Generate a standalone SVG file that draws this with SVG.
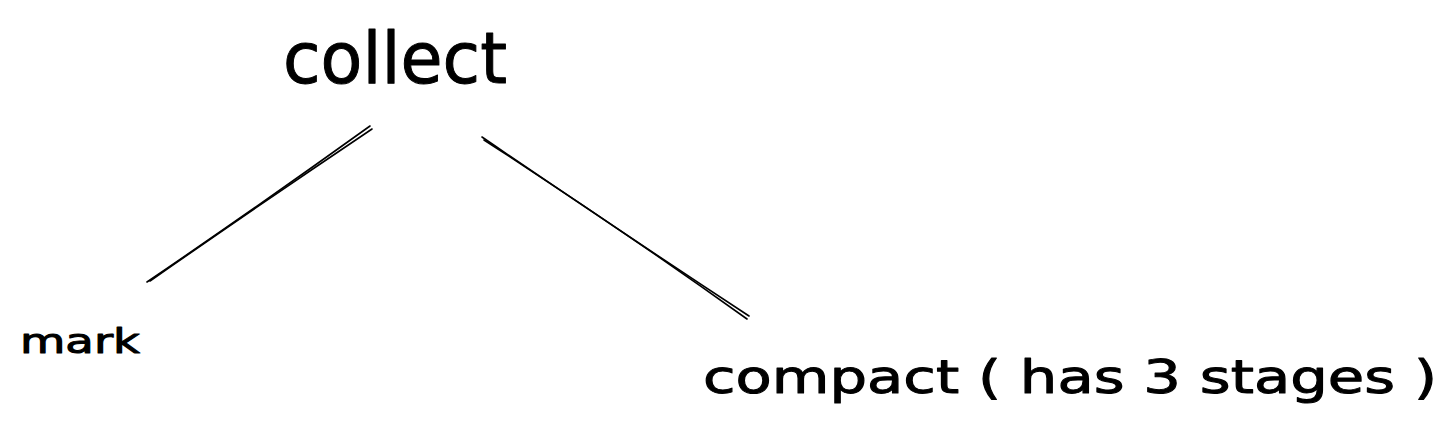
<svg xmlns="http://www.w3.org/2000/svg" width="1451" height="433" viewBox="0 0 1451 433">
<style>
.t{font-family:"DejaVu Sans","Liberation Sans",sans-serif;fill:#000;stroke:#000;stroke-width:1;stroke-linejoin:round;}
.e{fill:none;stroke:#000;stroke-width:1.6;stroke-linecap:round;}
</style>
<rect width="1451" height="433" fill="#fff"/>
<g id="connectors">
<path class="e" d="M147 282 Q260 205 370 126"/>
<path class="e" d="M150 281 Q262 203 372 129"/>
<path class="e" d="M482 137 Q615 228 749 316"/>
<path class="e" d="M484 140 Q617 226 747 319"/>
</g>
<g id="node-collect"><text class="t" x="283" y="83" font-size="72" stroke-width="1.4" textLength="224" lengthAdjust="spacingAndGlyphs">collect</text></g>
<g id="node-mark"><text class="t" x="20" y="353" font-size="33" textLength="120" lengthAdjust="spacingAndGlyphs">mark</text></g>
<g id="node-compact"><text class="t" x="703" y="393" font-size="46" stroke-width="1.2" textLength="734" lengthAdjust="spacingAndGlyphs">compact ( has 3 stages )</text></g>
</svg>
